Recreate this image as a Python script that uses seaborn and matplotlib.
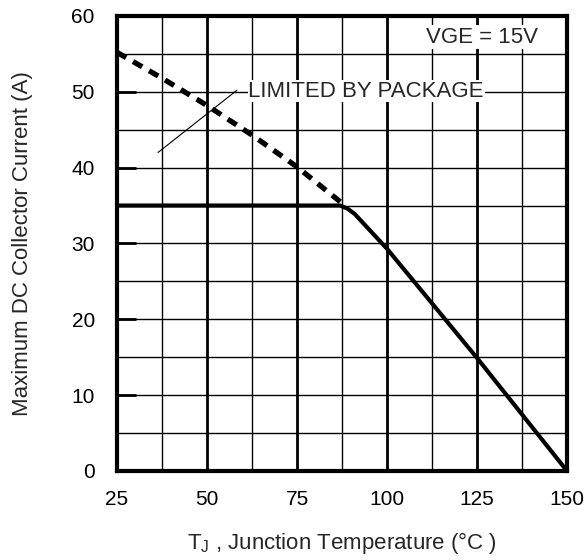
import matplotlib.pyplot as plt
import seaborn as sns
import pandas as pd
import numpy as np

# veri: paketle sinirli (kesikli) ve sicakliga bagli (duz) egriler
paket_t = [25, 37.5, 50, 62.5, 75, 87]
paket_i = [55.2, 51.8, 48.2, 44.3, 40.1, 35.5]

akim_t = [25, 87, 89, 91, 100, 125, 150]
akim_i = [35, 35, 34.6, 33.9, 29.3, 14.9, 0]

x_ticks = [25, 50, 75, 100, 125, 150]
y_ticks = [0, 10, 20, 30, 40, 50, 60]

sns.set_theme(style="white")
plt.rcParams['font.family'] = ['Liberation Sans', 'DejaVu Sans']

fig = plt.figure(figsize=(5.87, 5.6), dpi=100)
ax = fig.add_axes([0.1993, 0.159, 0.7667, 0.8125])

# izgara
for x in np.arange(25, 150.1, 12.5):
    lw = 2.0 if (x - 25) % 25 == 0 else 1.0
    ax.axvline(x, color="black", lw=lw, zorder=1)
for y in np.arange(0, 60.1, 5):
    ax.axhline(y, color="black", lw=1.0, zorder=1)

df_paket = pd.DataFrame({"t": paket_t, "i": paket_i})
df_akim = pd.DataFrame({"t": akim_t, "i": akim_i})
sns.lineplot(data=df_paket, x="t", y="i", ax=ax, color="black", lw=3.8,
             linestyle=(0, (2, 1.5)), zorder=3)
sns.lineplot(data=df_akim, x="t", y="i", ax=ax, color="black", lw=3, zorder=3)

ax.set_xlim(25, 150)
ax.set_ylim(0, 60)
ax.set_xticks(x_ticks)
ax.set_yticks(y_ticks)
ax.tick_params(axis="x", labelsize=15, colors="black", length=0, pad=14)
ax.tick_params(axis="y", labelsize=15, colors="black", direction="in",
               length=14, width=2, left=True, pad=16)
for s in ax.spines.values():
    s.set_linewidth(3)
    s.set_color("black")
    s.set_zorder(5)

ax.set_xlabel("T$_\\mathregular{J}$ , Junction Temperature (°C )", fontsize=16, labelpad=15)
ax.set_ylabel("Maximum DC Collector Current (A)", fontsize=16, labelpad=28)

# etiketler
ax.plot([36.4, 58.3], [42, 50.2], color="black", lw=0.8, zorder=3)
ax.text(61.5, 50.1, "LIMITED BY PACKAGE", fontsize=16, va="center", ha="left",
        bbox=dict(facecolor="white", edgecolor="none", pad=0.5), zorder=4)
ax.text(141.8, 57.2, "VGE = 15V", fontsize=16, va="center", ha="right",
        bbox=dict(facecolor="white", edgecolor="none", pad=1), zorder=4)

fig.savefig("out.png", dpi=100)
